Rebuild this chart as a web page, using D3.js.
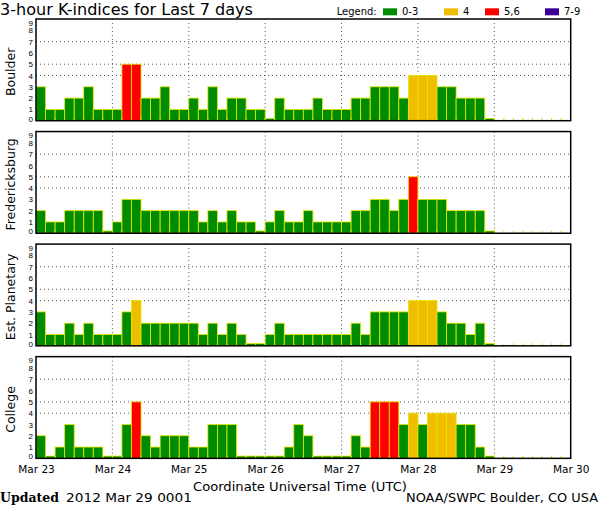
<!DOCTYPE html>
<html><head><meta charset="utf-8">
<script src="https://cdn.jsdelivr.net/npm/d3@7"></script>
<style>body{margin:0;background:#fff} svg{display:block}</style>
</head><body>
<script>
const dayLabels = ["Mar 23","Mar 24","Mar 25","Mar 26","Mar 27","Mar 28","Mar 29","Mar 30"];
const stations = ["Boulder","Fredericksburg","Est. Planetary","College"];
const boulder = [3,1,1,2,2,3,1,1, 1,5,5,2,2,3,1,1, 2,1,3,1,2,2,1,1, 0,2,1,1,1,2,1,1, 1,2,2,3,3,3,2,4, 4,4,3,3,2,2,2,0];
const fredericksburg = [2,1,1,2,2,2,2,0, 1,3,3,2,2,2,2,2, 2,1,2,1,2,1,1,0, 1,2,1,1,2,1,1,1, 1,2,2,3,3,2,3,5, 3,3,3,2,2,2,2,0];
const planetary = [3,1,1,2,1,2,1,1, 1,3,4,2,2,2,2,2, 2,1,2,1,2,1,0,0, 1,2,1,1,1,1,1,1, 1,2,1,3,3,3,3,4, 4,4,3,2,2,1,2,0];
const college = [2,0,1,3,1,1,1,0, 0,3,5,2,1,2,2,2, 1,1,3,3,3,0,0,0, 0,0,1,3,2,0,0,0, 0,2,1,5,5,5,3,4, 3,4,4,4,3,3,1,0];
const kTicks = [0,1,2,3,4,5,6,7,8,9];
const gridLevels = [4,5,7];
const legendLabels = ["0-3","4","5,6","7-9"];
const titleText = "3-hour K-indices for Last 7 days";
const xTitle = "Coordinate Universal Time (UTC)";
const updatedLabel = "Updated";
const updatedText = "2012 Mar 29 0001";
const creditText = "NOAA/SWPC Boulder, CO USA";

const seriesList = [boulder, fredericksburg, planetary, college];
const colors = ["#008c00", "#f0be00", "#ff0000", "#3c0096"];
const color = d3.scaleThreshold().domain([4,5,7]).range(colors);

const W = 600, H = 510;
const svg = d3.select("body").append("svg").attr("width", W).attr("height", H);
const font = "'DejaVu Sans', sans-serif";

const slots = 56;
const x = d3.scaleLinear().domain([0, slots]).range([36, 570.7]);
const panelH = 101.7, panelStep = 112.55, firstTop = 19;

// Title
svg.append("text").attr("x", 0).attr("y", 14.5).attr("font-family", font)
  .attr("font-size", 15).attr("textLength", 253).attr("lengthAdjust", "spacingAndGlyphs")
  .text(titleText);

// Legend
svg.append("text").attr("x", 336.7).attr("y", 15).attr("font-family", font).attr("font-size", 10)
  .attr("textLength", 40).attr("lengthAdjust", "spacingAndGlyphs").text("Legend:");
const legX = [383, 444, 485, 545];
legendLabels.forEach((l, i) => {
  svg.append("rect").attr("x", legX[i]).attr("y", 8.3).attr("width", 14).attr("height", 7).attr("fill", colors[i]);
  svg.append("text").attr("x", legX[i] + 19).attr("y", 15).attr("font-family", font).attr("font-size", 10).text(l);
});

seriesList.forEach((vals, p) => {
  const top = firstTop + p * panelStep;
  const y = d3.scaleLinear().domain([0, 9]).range([top + panelH, top]);
  const g = svg.append("g");

  // gridlines
  g.selectAll("line.h").data(gridLevels).join("line")
    .attr("x1", x(0)).attr("x2", x(slots)).attr("y1", d => y(d)).attr("y2", d => y(d))
    .attr("stroke", "#555").attr("stroke-width", 1).attr("stroke-dasharray", "1,3");
  g.selectAll("line.v").data(d3.range(1, 7)).join("line")
    .attr("x1", d => x(d * 8)).attr("x2", d => x(d * 8)).attr("y1", top).attr("y2", top + panelH)
    .attr("stroke", "#555").attr("stroke-width", 1).attr("stroke-dasharray", "1,3");

  // bars
  g.selectAll("rect.bar").data(vals).join("rect")
    .attr("x", (d, i) => x(i)).attr("width", (d, i) => x(i + 1) - x(i))
    .attr("y", d => Math.min(y(d), y(0) - 2.3))
    .attr("height", d => Math.max(y(0) - y(d), 2.3))
    .attr("fill", d => color(d)).attr("stroke", "#e8e800").attr("stroke-width", 0.8);

  // small 3-hour ticks at bottom
  g.selectAll("line.t").data(d3.range(1, slots)).join("line")
    .attr("x1", d => x(d)).attr("x2", d => x(d)).attr("y1", y(0)).attr("y2", y(0) - 2.5)
    .attr("stroke", "#e8d800").attr("stroke-width", 1);

  // frame
  g.append("rect").attr("x", x(0)).attr("y", top).attr("width", x(slots) - x(0)).attr("height", panelH)
    .attr("fill", "none").attr("stroke", "#000").attr("stroke-width", 1.5);

  // y axis
  const ax = g.append("g").attr("transform", `translate(${x(0)},0)`)
    .call(d3.axisLeft(y).tickValues(kTicks).tickSize(0).tickPadding(3));
  ax.select(".domain").remove();
  ax.selectAll("text").attr("font-family", "'Liberation Sans', sans-serif").attr("font-size", 8).attr("fill", "#000")
    .attr("dy", d => d === 9 ? "0.75em" : d === 0 ? "0.07em" : "0.32em");

  // station label
  svg.append("text").attr("transform", `translate(10,${top + panelH / 2 + 2}) rotate(-90)`)
    .attr("text-anchor", "middle").attr("dominant-baseline", "central")
    .attr("font-family", font).attr("font-size", 12.5).text(stations[p]);

  if (p === seriesList.length - 1) {
    const xa = g.append("g").attr("transform", `translate(0,${top + panelH})`)
      .call(d3.axisBottom(x).tickValues(d3.range(8).map(d => d * 8)).tickFormat((d, i) => dayLabels[i]).tickSize(0).tickPadding(7));
    xa.select(".domain").remove();
    xa.selectAll("text").attr("font-family", font).attr("font-size", 10.5).attr("fill", "#000");
  }
});

svg.append("text").attr("x", 193).attr("y", 491).attr("font-family", font).attr("font-size", 12.5)
  .attr("textLength", 214).attr("lengthAdjust", "spacingAndGlyphs").text(xTitle);
svg.append("text").attr("x", 0).attr("y", 502).attr("font-family", "'DejaVu Serif', serif").attr("font-weight", "bold")
  .attr("font-size", 12).attr("textLength", 59).attr("lengthAdjust", "spacingAndGlyphs").text(updatedLabel);
svg.append("text").attr("x", 66).attr("y", 502).attr("font-family", font).attr("font-size", 12.5)
  .attr("textLength", 126).attr("lengthAdjust", "spacingAndGlyphs").text(updatedText);
svg.append("text").attr("x", 598).attr("y", 502).attr("text-anchor", "end").attr("font-family", font).attr("font-size", 12.5)
  .attr("textLength", 192).attr("lengthAdjust", "spacingAndGlyphs").text(creditText);
</script>
</body></html>
